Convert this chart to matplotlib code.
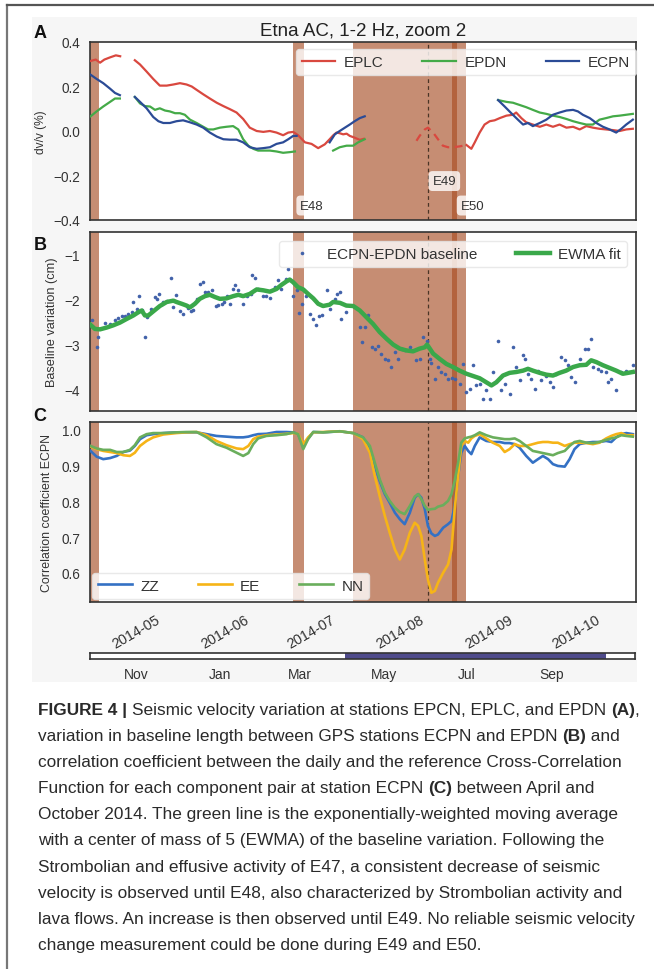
import numpy as np
import matplotlib
matplotlib.use('Agg')
import matplotlib.pyplot as plt
import matplotlib.dates as mdates
from matplotlib.patches import Rectangle
from matplotlib.lines import Line2D

nan = np.nan

# ---------------------------------------------------------------- data
start_date = '2014-04-15'          # day 0 of all day offsets below
end_day = 190

# Panel A : dv/v (%)
eplc_days = [0, 2, 3.5, 5, 7, 9, 10.5, nan,
             15.6, 17.4, 19.7, 22.0, 24.3, 26.7, 29.0, 31.3, 33.6, 35.4, 37.1, 39.4, 41.7, 44.1,
             46.4, 48.7, 51.0, 53.3, 55.6, 58.0, 60.3, 62.6, 64.9, 67.2, 69.0, 70.7, 72.4, 74.8,
             77.1, 79.4, 81.7, 83.4, 84.6, 85.8, 86.9, 88.1, 89.3, 90.4, 92.1, 93.9, 95.3, nan,
             131.0, 132.7, 133.9, 135.6, 137.3, 139.1, 140.8, 142.6, 144.9, 147.2, 148.3, 150.1,
             151.8, 154.1, 156.5, 158.8, 161.1, 163.4, 165.8, 168.1, 170.4, 172.7, 175.0, 177.3,
             179.6, 182.0, 184.3, 186.6, 188.9]
eplc_vals = [0.314, 0.321, 0.307, 0.321, 0.331, 0.340, 0.336, nan,
             0.318, 0.299, 0.267, 0.234, 0.204, 0.204, 0.209, 0.215, 0.209, 0.200, 0.185, 0.165, 0.146, 0.127,
             0.112, 0.098, 0.083, 0.054, 0.015, 0.000, -0.004, 0.000, -0.007, -0.019, -0.007, -0.004, -0.019, -0.051,
             -0.058, -0.077, -0.060, -0.037, -0.020, -0.007, -0.010, -0.015, -0.012, -0.022, -0.030, -0.040, -0.035, nan,
             -0.063, -0.080, -0.051, -0.007, 0.029, 0.044, 0.048, 0.058, 0.069, 0.073, 0.083, 0.058,
             0.039, 0.029, 0.019, 0.029, 0.019, 0.029, 0.015, 0.019, 0.007, 0.022, 0.015, 0.010,
             0.007, 0.004, 0.000, 0.007, 0.010]
eplc_dash_days = [113.6, 114.7, 116.5, 117.6, 119.4, 121.1, 122.8, 124.6, 126.3, 128.7, 131.0]
eplc_dash_vals = [-0.044, -0.022, 0.007, 0.015, -0.007, -0.037, -0.066, -0.073, -0.073, -0.069, -0.063]

epdn_days = [0.2, 2.3, 4.6, 7.0, 8.7, 10.4, nan,
             15.6, 17.4, 19.1, 20.9, 22.6, 24.3, 26.1, 27.8, 29.6, 31.3, 33.0, 34.8, 37.1, 39.4, 41.1,
             42.9, 45.2, 47.5, 49.8, 51.6, 53.3, 55.1, 56.8, 58.5, 60.3, 62.6, 64.9, 67.2, 69.5, 71.3, nan,
             84.6, 86.9, 89.3, 91.6, 93.3, 95.6, nan,
             142.0, 144.9, 147.2, 149.5, 151.8, 154.1, 156.5, 158.8, 161.1, 163.4, 165.8, 168.1, 170.4,
             172.7, 175.0, 177.3, 179.6, 182.0, 184.3, 186.6, 188.9]
epdn_vals = [0.066, 0.088, 0.110, 0.131, 0.146, 0.146, nan,
             0.153, 0.124, 0.112, 0.110, 0.095, 0.102, 0.092, 0.088, 0.080, 0.080, 0.073, 0.051, 0.036, 0.019, 0.007,
             0.007, 0.015, 0.019, 0.022, 0.007, -0.037, -0.066, -0.080, -0.088, -0.088, -0.088, -0.092, -0.098, -0.095, -0.092, nan,
             -0.088, -0.073, -0.066, -0.066, -0.051, -0.037, nan,
             0.139, 0.131, 0.127, 0.117, 0.107, 0.095, 0.083, 0.077, 0.069, 0.063, 0.054, 0.044, 0.036,
             0.029, 0.029, 0.051, 0.058, 0.066, 0.069, 0.073, 0.077]

ecpn_days = [0.2, 2.3, 4.6, 7.0, 8.7, 10.4, nan,
             15.6, 17.4, 19.7, 22.0, 23.8, 25.5, 27.8, 30.1, 32.4, 34.8, 37.1, 39.4, 41.7, 44.1, 46.4,
             48.7, 51.0, 53.3, 55.6, 58.0, 60.3, 62.6, 64.9, 67.2, 69.0, 70.7, 71.9, nan,
             83.4, 85.2, 86.9, 88.7, 90.4, 92.1, 93.9, 95.6, nan,
             142.0, 144.3, 146.6, 148.9, 150.7, 152.4, 154.1, 156.5, 158.8, 161.1, 163.4, 165.8, 168.1,
             169.8, 171.5, 173.9, 176.2, 178.5, 180.8, 183.1, 184.9, 186.6, 188.9]
ecpn_vals = [0.253, 0.234, 0.215, 0.190, 0.171, 0.161, nan,
             0.153, 0.131, 0.102, 0.063, 0.044, 0.036, 0.036, 0.044, 0.048, 0.039, 0.029, 0.015, -0.007, -0.025, -0.037,
             -0.039, -0.039, -0.051, -0.073, -0.080, -0.077, -0.073, -0.058, -0.051, -0.037, -0.022, -0.022, nan,
             -0.051, -0.015, 0.000, 0.015, 0.029, 0.044, 0.058, 0.066, nan,
             0.139, 0.110, 0.080, 0.051, 0.029, 0.036, 0.022, 0.036, 0.051, 0.073, 0.083, 0.092, 0.095,
             0.088, 0.073, 0.058, 0.036, 0.019, 0.007, -0.007, 0.010, 0.029, 0.051]

# Panel B : baseline variation (cm)
gps_days = [0.6, 2.3, 2.9, 5.2, 7.0, 8.7, 9.9, 11.0, 12.2, 13.3,
            14.5, 15.1, 16.2, 17.2, 18.0, 19.1, 19.7, 21.4, 22.6, 23.2,
            24.1, 24.9, 25.5, 26.7, 28.2, 29.0, 30.1, 31.3, 32.2, 33.6,
            34.2, 35.0, 35.9, 37.1, 38.2, 39.2, 40.0, 41.1, 42.3, 43.8,
            44.6, 45.8, 46.6, 47.5, 48.7, 49.6, 50.4, 51.6, 53.3, 54.5,
            55.9, 56.2, 57.4, 58.5, 60.3, 61.4, 62.6, 64.3, 65.5, 66.6,
            68.2, 69.0, 70.5, 71.9, 72.8, 73.6, 75.1, 76.5, 77.7, 78.6,
            79.7, 80.9, 82.3, 83.4, 85.2, 85.8, 86.9, 87.5, 89.2, 93.9,
            94.5, 95.6, 96.8, 98.0, 99.1, 100.3, 101.4, 102.6, 103.7, 104.9,
            106.0, 107.2, 108.4, 109.5, 111.3, 113.6, 114.7, 115.9, 117.1, 118.2,
            118.8, 120.0, 121.1, 122.3, 123.4, 124.6, 125.8, 126.9, 128.7, 129.8,
            131.0, 132.1, 133.3, 134.4, 135.6, 136.8, 137.9, 139.1, 140.2, 142.0,
            143.1, 144.3, 146.0, 147.2, 148.4, 149.5, 150.7, 151.3, 152.4, 153.6,
            154.7, 155.9, 157.1, 158.8, 160.0, 161.1, 162.3, 164.0, 165.2, 166.3,
            167.5, 168.6, 170.4, 172.1, 173.3, 174.4, 175.0, 176.8, 177.9, 179.6,
            180.2, 181.4, 183.1, 184.9, 186.6, 188.9]
gps_vals = [-2.46, -3.06, -2.83, -2.51, -2.54, -2.46, -2.41, -2.37, -2.37, -2.31,
            -2.28, -2.04, -2.20, -1.92, -2.22, -2.83, -2.39, -2.20, -1.94, -1.98,
            -1.87, -2.09, -2.04, -2.02, -1.52, -2.17, -1.89, -2.24, -2.31, -2.14,
            -2.19, -2.26, -2.22, -1.98, -1.65, -1.61, -1.83, -1.82, -1.79, -2.14,
            -2.11, -2.09, -2.05, -1.91, -2.09, -1.76, -1.67, -1.79, -2.09, -1.92,
            -1.87, -1.45, -1.52, -1.76, -1.91, -1.92, -1.97, -1.72, -1.56, -1.76,
            -1.53, -1.31, -1.92, -1.79, -2.30, -2.09, -1.92, -2.31, -2.43, -2.56,
            -2.37, -2.35, -1.79, -2.20, -1.98, -1.87, -1.83, -2.43, -2.28, -2.61,
            -2.95, -2.61, -2.35, -3.06, -3.09, -3.02, -3.20, -3.32, -3.35, -3.50,
            -3.17, -3.32, -3.09, -3.13, -3.06, -3.35, -3.32, -2.83, -2.91, -3.32,
            -3.41, -3.76, -3.50, -3.61, -3.65, -3.76, -3.75, -3.76, -3.87, -3.43,
            -4.06, -3.98, -3.46, -3.91, -3.87, -4.21, -4.02, -4.21, -3.61, -2.91,
            -4.02, -3.87, -4.10, -3.06, -3.50, -3.80, -3.24, -3.32, -3.65, -3.76,
            -3.98, -3.58, -3.80, -3.69, -3.84, -3.95, -3.65, -3.28, -3.35, -3.46,
            -3.72, -3.84, -3.32, -3.09, -3.09, -2.87, -3.50, -3.54, -3.58, -3.61,
            -3.84, -3.76, -4.02, -3.61, -3.58, -3.46]
ewma_days = [0.2, 1.7, 3.5, 5.8, 8.1, 10.4, 12.7, 15.1, 16.8, 18.0,
             19.1, 20.3, 22.0, 24.3, 26.7, 29.0, 30.1, 31.9, 33.6, 34.8,
             36.5, 38.2, 40.0, 41.7, 43.5, 45.2, 47.5, 49.8, 51.6, 53.3,
             55.6, 58.0, 60.3, 62.6, 64.9, 66.6, 68.4, 69.5, 70.7, 72.4,
             74.2, 75.9, 77.7, 79.4, 81.1, 83.4, 84.6, 87.0, 89.2, 91.6,
             93.9, 96.2, 98.5, 100.8, 103.2, 105.5, 107.8, 110.1, 112.4, 114.7,
             116.5, 117.3, 119.4, 121.7, 124.0, 126.3, 128.6, 131.0, 133.3, 135.6,
             137.9, 139.7, 141.4, 143.7, 146.0, 148.4, 150.7, 152.4, 154.1, 156.5,
             158.8, 161.1, 163.4, 165.7, 168.1, 170.4, 172.7, 174.4, 176.2, 178.5,
             180.8, 183.1, 185.4, 187.2, 188.9]
ewma_vals = [-2.56, -2.65, -2.66, -2.62, -2.57, -2.51, -2.43, -2.35, -2.28, -2.24,
             -2.35, -2.35, -2.26, -2.14, -2.05, -2.02, -2.05, -2.09, -2.13, -2.17,
             -2.09, -1.98, -1.92, -1.89, -1.94, -1.98, -1.97, -1.92, -1.89, -1.92,
             -1.87, -1.77, -1.79, -1.82, -1.76, -1.67, -1.59, -1.55, -1.61, -1.72,
             -1.77, -1.87, -1.97, -2.09, -2.14, -2.11, -2.05, -2.07, -2.13, -2.14,
             -2.24, -2.39, -2.54, -2.72, -2.87, -3.00, -3.09, -3.13, -3.15, -3.09,
             -3.06, -3.00, -3.20, -3.32, -3.43, -3.50, -3.58, -3.65, -3.70, -3.75,
             -3.84, -3.91, -3.84, -3.69, -3.63, -3.61, -3.58, -3.54, -3.58, -3.63,
             -3.67, -3.69, -3.63, -3.58, -3.50, -3.46, -3.45, -3.35, -3.39, -3.46,
             -3.52, -3.58, -3.65, -3.63, -3.61]

# Panel C : correlation coefficient ECPN
corr_days = [0.2, 2.3, 4.6, 7.0, 9.3, 11.6, 13.9, 15.6, 17.4, 19.7, 22.0, 25.5, 30.1, 33.6, 37.1, 40.6,
             44.0, 47.5, 51.0, 53.3, 55.1, 56.8, 58.5, 61.4, 64.9, 68.4, 70.7, 72.4, 74.2, 75.9, 77.7, 81.1,
             86.9, 91.6, 95.0, 97.4, 99.1, 100.8, 102.6, 104.3, 106.1, 107.8, 109.5, 111.3, 113.0, 114.2,
             115.3, 116.5, 117.6, 118.8, 120.0, 121.1, 122.9, 124.6, 125.8, 126.9, 128.1, 129.2, 130.4,
             131.6, 132.7, 133.9, 135.6, 137.9, 140.2, 142.6, 144.3, 146.0, 147.8, 149.5, 151.8, 154.1,
             155.9, 157.6, 159.4, 161.1, 162.8, 165.2, 166.9, 168.6, 170.4, 172.7, 175.0, 177.3, 179.6,
             181.4, 183.1, 184.9, 186.6, 188.9]
zz_vals = [0.941, 0.925, 0.918, 0.921, 0.927, 0.938, 0.942, 0.955, 0.974, 0.985, 0.988, 0.991, 0.993, 0.993, 0.993, 0.988,
           0.983, 0.981, 0.979, 0.979, 0.981, 0.985, 0.988, 0.989, 0.994, 0.994, 0.993, 0.988, 0.955, 0.976, 0.994, 0.993,
           0.996, 0.991, 0.979, 0.941, 0.899, 0.857, 0.820, 0.796, 0.768, 0.750, 0.736, 0.768, 0.810, 0.820,
           0.810, 0.778, 0.731, 0.710, 0.703, 0.707, 0.726, 0.736, 0.745, 0.787, 0.871, 0.936, 0.955,
           0.941, 0.932, 0.955, 0.979, 0.969, 0.966, 0.966, 0.963, 0.963, 0.960, 0.950, 0.927, 0.908,
           0.918, 0.927, 0.918, 0.904, 0.899, 0.897, 0.918, 0.946, 0.960, 0.964, 0.966, 0.966, 0.969,
           0.966, 0.979, 0.988, 0.991, 0.988]
ee_vals = [0.953, 0.946, 0.941, 0.938, 0.935, 0.929, 0.927, 0.936, 0.955, 0.969, 0.979, 0.987, 0.991, 0.993, 0.994, 0.985,
           0.969, 0.957, 0.948, 0.946, 0.955, 0.974, 0.981, 0.985, 0.987, 0.989, 0.991, 0.989, 0.960, 0.979, 0.993, 0.994,
           0.996, 0.991, 0.974, 0.936, 0.871, 0.815, 0.759, 0.712, 0.665, 0.637, 0.665, 0.712, 0.740, 0.731,
           0.703, 0.637, 0.581, 0.544, 0.549, 0.572, 0.600, 0.623, 0.665, 0.778, 0.871, 0.955, 0.969,
           0.964, 0.976, 0.983, 0.988, 0.976, 0.964, 0.955, 0.938, 0.946, 0.960, 0.955, 0.955, 0.960,
           0.964, 0.966, 0.966, 0.964, 0.964, 0.955, 0.960, 0.964, 0.964, 0.963, 0.960, 0.964, 0.976,
           0.983, 0.988, 0.991, 0.985, 0.985]
nn_vals = [0.955, 0.948, 0.944, 0.944, 0.938, 0.938, 0.944, 0.957, 0.979, 0.988, 0.991, 0.991, 0.993, 0.994, 0.994, 0.979,
           0.960, 0.950, 0.936, 0.927, 0.935, 0.960, 0.976, 0.983, 0.985, 0.988, 0.993, 0.988, 0.946, 0.974, 0.994, 0.993,
           0.996, 0.991, 0.979, 0.955, 0.908, 0.862, 0.824, 0.801, 0.782, 0.770, 0.764, 0.787, 0.813, 0.820,
           0.806, 0.787, 0.776, 0.778, 0.779, 0.785, 0.789, 0.801, 0.820, 0.857, 0.908, 0.964, 0.976,
           0.979, 0.981, 0.985, 0.993, 0.985, 0.979, 0.976, 0.974, 0.974, 0.976, 0.969, 0.955, 0.941,
           0.938, 0.935, 0.932, 0.929, 0.935, 0.941, 0.955, 0.966, 0.969, 0.964, 0.963, 0.966, 0.972,
           0.976, 0.979, 0.985, 0.983, 0.981]

# eruptive episodes (day offsets)
band_start = [-2.0, 70.5, 91.6]
band_end = [3.2, 74.4, 131.0]
e50_start, e50_end = 126.1, 127.7
e49_day = 117.6
event_labels = ['E48', 'E49', 'E50']
event_label_days = [73.2, 119.2, 129.0]
event_label_vals = [-0.335, -0.225, -0.335]

month_ticks = ['2014-05-01', '2014-06-01', '2014-07-01', '2014-08-01', '2014-09-01', '2014-10-01']
a_yticks = [-0.4, -0.2, 0.0, 0.2, 0.4]
b_yticks = [-4, -3, -2, -1]
c_yticks = [0.6, 0.7, 0.8, 0.9, 1.0]

# overview timeline strip
tl_start, tl_end = '2013-09-28', '2014-11-01'
tl_sel_start, tl_sel_end = '2014-04-03', '2014-10-11'
tl_months = ['2013-11-01', '2014-01-01', '2014-03-01', '2014-05-01', '2014-07-01', '2014-09-01']
tl_labels = ['Nov', 'Jan', 'Mar', 'May', 'Jul', 'Sep']

caption_lines = [
    [('FIGURE 4 | ', True), ('Seismic velocity variation at stations EPCN, EPLC, and EPDN ', False), ('(A)', True), (',', False)],
    [('variation in baseline length between GPS stations ECPN and EPDN ', False), ('(B)', True), (' and', False)],
    [('correlation coefficient between the daily and the reference Cross-Correlation', False)],
    [('Function for each component pair at station ECPN ', False), ('(C)', True), (' between April and', False)],
    [('October 2014. The green line is the exponentially-weighted moving average', False)],
    [('with a center of mass of 5 (EWMA) of the baseline variation. Following the', False)],
    [('Strombolian and effusive activity of E47, a consistent decrease of seismic', False)],
    [('velocity is observed until E48, also characterized by Strombolian activity and', False)],
    [('lava flows. An increase is then observed until E49. No reliable seismic velocity', False)],
    [('change measurement could be done during E49 and E50.', False)],
]

# ---------------------------------------------------------------- style
plt.rcParams['font.family'] = ['Liberation Sans', 'DejaVu Sans']
cap_family = ['Liberation Sans Narrow', 'Liberation Sans', 'DejaVu Sans']
TXT = '#333333'
band_color = '#c68d73'
dark_band_color = '#b3633e'
W, H = 654, 970

fig = plt.figure(figsize=(W / 100, H / 100), dpi=100)
fig.patch.set_facecolor('white')


def R(x0, y0, x1, y1):
    return [x0 / W, 1 - y1 / H, (x1 - x0) / W, (y1 - y0) / H]


def P(x, y):
    return (x / W, 1 - y / H)


# light grey backdrop of the figure image and page border lines
fig.patches.append(Rectangle(P(32, 683), (637 - 32) / W, (683 - 18) / H, transform=fig.transFigure,
                             facecolor='#f6f6f6', edgecolor='none', zorder=-5))
fig.lines.append(Line2D([7 / W, 7 / W], [0, 1 - 6 / H], transform=fig.transFigure, color='#777777', lw=1.6))
fig.lines.append(Line2D([7 / W, 1], [1 - 6 / H, 1 - 6 / H], transform=fig.transFigure, color='#555555', lw=1.6))

d0 = mdates.datestr2num(start_date)


def X(days):
    return d0 + np.asarray(days, dtype=float)


def style_ax(ax, yticks, ylim):
    ax.set_facecolor('white')
    for s in ax.spines.values():
        s.set_color('#333333')
        s.set_linewidth(1.2)
    ax.set_xlim(X(0), X(end_day))
    ax.xaxis_date()
    ax.set_xticks(mdates.datestr2num(month_ticks))
    ax.xaxis.set_major_formatter(mdates.DateFormatter('%Y-%m'))
    ax.set_yticks(yticks)
    ax.set_ylim(*ylim)
    ax.tick_params(length=0, pad=7, labelsize=9.8, labelcolor=TXT)
    for s, e in zip(band_start, band_end):
        ax.axvspan(X(s), X(e), color=band_color, lw=0, zorder=1)
    ax.axvspan(X(e50_start), X(e50_end), color=dark_band_color, lw=0, zorder=1.2)
    ax.axvline(X(e49_day), color='#4a3526', lw=0.9, ls=(0, (3, 2.5)), zorder=1.5)


leg_kw = dict(fontsize=11, framealpha=0.8, facecolor='white', edgecolor='#e4e4e4',
              fancybox=True, borderaxespad=0, labelcolor=TXT, handlelength=2.2,
              handletextpad=0.55, columnspacing=2.55)

# ---------------- Panel A
axA = fig.add_axes(R(90, 43, 636, 221))
style_ax(axA, a_yticks, (-0.4, 0.4))
axA.tick_params(labelbottom=False)
axA.plot(X(eplc_days), eplc_vals, color='#d9483f', lw=1.6, zorder=3, label='EPLC')
axA.plot(X(epdn_days), epdn_vals, color='#44aa48', lw=1.6, zorder=3, label='EPDN')
axA.plot(X(ecpn_days), ecpn_vals, color='#2b4b96', lw=1.6, zorder=3, label='ECPN')
axA.plot(X(eplc_dash_days), eplc_dash_vals, color='#d9483f', lw=1.6, ls=(0, (3.5, 2.5)), zorder=3)
for lab, dd, vv in zip(event_labels, event_label_days, event_label_vals):
    axA.text(X(dd), vv, lab, fontsize=9.5, color=TXT, ha='left', va='center', zorder=6,
             bbox=dict(boxstyle='round,pad=0.3', fc='white', ec='none', alpha=0.8))
legA = axA.legend(ncol=3, loc='upper right', bbox_to_anchor=(1.0, 0.961), **leg_kw)
legA.set_zorder(10)

# ---------------- Panel B
axB = fig.add_axes(R(90, 233, 636, 412))
style_ax(axB, b_yticks, (-4.48, -0.49))
axB.tick_params(labelbottom=False)
axB.plot(X(gps_days), gps_vals, ls='none', marker='o', ms=2.6, color='#4262aa', mew=0, zorder=3,
         label='ECPN-EPDN baseline')
axB.plot(X(ewma_days), ewma_vals, color='#3aa84a', lw=3.2, zorder=4, label='EWMA fit')
legB = axB.legend(ncol=2, loc='upper right', bbox_to_anchor=((627 - 90) / 546, 0.95), numpoints=1, **leg_kw)
legB.set_zorder(10)

# ---------------- Panel C
axC = fig.add_axes(R(90, 423, 636, 603))
style_ax(axC, c_yticks, (0.518, 1.022))
axC.plot(X(corr_days), zz_vals, color='#3471c4', lw=1.9, zorder=3, label='ZZ')
axC.plot(X(corr_days), ee_vals, color='#f6b417', lw=1.9, zorder=3, label='EE')
axC.plot(X(corr_days), nn_vals, color='#6aae5c', lw=1.9, zorder=3, label='NN')
for lab in axC.get_xticklabels():
    lab.set_rotation(30)
    lab.set_ha('center')
    lab.set_fontsize(10.4)
legC = axC.legend(ncol=3, loc='lower left', bbox_to_anchor=(0.004, 0.017), **leg_kw)
legC.set_zorder(10)

# y labels, panel letters and title
fig.text(*P(41, 132), 'dv/v (%)', rotation=90, ha='center', va='center', fontsize=8.6, color=TXT)
fig.text(*P(52, 322), 'Baseline variation (cm)', rotation=90, ha='center', va='center', fontsize=9.2, color=TXT)
fig.text(*P(47, 513), 'Correlation coefficient ECPN', rotation=90, ha='center', va='center', fontsize=8.9, color=TXT)
for letter, yy in (('A', 38), ('B', 250), ('C', 421)):
    fig.text(*P(40, yy), letter, fontsize=13, fontweight='bold', ha='center', va='baseline', color='#111111')
fig.text(*P(363, 35), 'Etna AC, 1-2 Hz, zoom 2', ha='center', va='baseline', fontsize=13.5, color='#222222')

# ---------------- overview timeline strip
axT = fig.add_axes(R(90, 654, 635, 660))
axT.set_facecolor('white')
axT.set_xlim(mdates.datestr2num(tl_start), mdates.datestr2num(tl_end))
axT.set_ylim(0, 1)
axT.axvspan(mdates.datestr2num(tl_sel_start), mdates.datestr2num(tl_sel_end), color='#4f4b8b', lw=0)
axT.set_yticks([])
axT.set_xticks(mdates.datestr2num(tl_months))
axT.set_xticklabels(tl_labels)
axT.tick_params(length=0, pad=6, labelsize=10, labelcolor=TXT)
for s in axT.spines.values():
    s.set_color('#333333')
    s.set_linewidth(1.2)

# ---------------- caption
renderer = fig.canvas.get_renderer()


def measure(s, size, bold):
    t = fig.text(0, 0, s + '|', fontsize=size, fontweight='bold' if bold else 'normal', family=cap_family)
    w1 = t.get_window_extent(renderer).width
    t.set_text('|')
    w2 = t.get_window_extent(renderer).width
    t.remove()
    return w1 - w2


cap_size = 10 * 599 / measure(caption_lines[8][0][0], 10, False)
cap_x0 = 38
cap_base0 = 715
cap_step = 26.1
for i, parts in enumerate(caption_lines):
    x = cap_x0
    yb = cap_base0 + i * cap_step
    for s, b in parts:
        fig.text(*P(x, yb), s, fontsize=cap_size, fontweight='bold' if b else 'normal', family=cap_family,
                 color='#2a2a2a', ha='left', va='baseline')
        x += measure(s, cap_size, b)

fig.savefig('out.png', dpi=100)
